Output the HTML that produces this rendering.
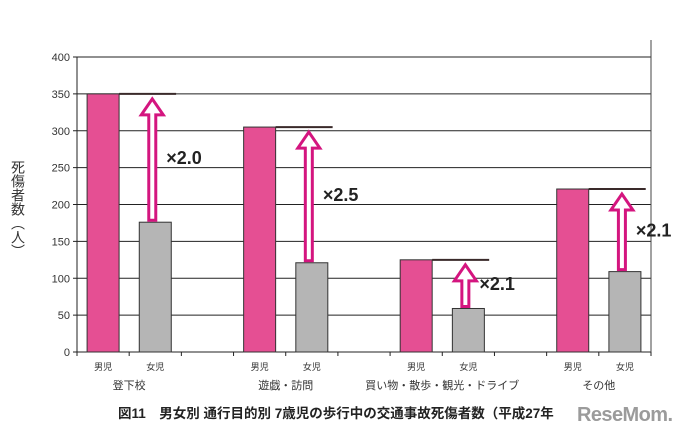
<!DOCTYPE html>
<html><head><meta charset="utf-8"><style>
body{margin:0;background:#fff;width:686px;height:438px;overflow:hidden;font-family:"Liberation Sans","Noto Sans CJK JP",sans-serif}
</style></head><body>
<svg id="c" width="686" height="438" xmlns="http://www.w3.org/2000/svg"></svg>
<script>
const categories=["登下校","遊戯・訪問","買い物・散歩・観光・ドライブ","その他"];
const boys=[350,305,125,221];
const girls=[176,121,59,109];
const ratios=["×2.0","×2.5","×2.1","×2.1"];
const yTicks=[0,50,100,150,200,250,300,350,400];
const ns="http://www.w3.org/2000/svg";
const svg=document.getElementById('c');
const X0=77,X1=651,Y0=352,Y1=57,slot=(X1-X0)/11,bw=32;
const y=v=>Y0-(Y0-Y1)*v/400;
const slotX=i=>X0+slot*i;
function el(t,a,txt){const e=document.createElementNS(ns,t);for(const k in a)e.setAttribute(k,a[k]);if(txt!=null)e.textContent=txt;svg.appendChild(e);return e;}
yTicks.forEach(v=>{
 const g=el('line',{x1:X0,x2:X1,y1:y(v),y2:y(v),stroke:'#222','stroke-width':1});
 
 
 el('line',{x1:X0-4,x2:X0,y1:y(v),y2:y(v),stroke:'#222'});
 const t=el('text',{x:X0-7,y:y(v)+4,'text-anchor':'end','font-size':11,fill:'#333'},v);
 
 
});
const ya=el('line',{x1:X0,x2:X0,y1:Y1,y2:Y0,stroke:'#222'});


const rb=el('line',{x1:X1,x2:X1,y1:40,y2:Y0,stroke:'#444'});


for(let i=0;i<=11;i++)el('line',{x1:slotX(i),x2:slotX(i),y1:Y0,y2:Y0+4,stroke:'#222'});
categories.forEach((c,i)=>{
 const bs=i*3, gs=i*3+1;
 const bx=slotX(bs)+(slot-bw)/2, gx=slotX(gs)+(slot-bw)/2;
 const b=el('rect',{x:bx,y:y(boys[i]),width:bw,height:Y0-y(boys[i]),fill:'#e54f93',stroke:'#333','stroke-width':1});
 
 
 const g=el('rect',{x:gx,y:y(girls[i]),width:bw,height:Y0-y(girls[i]),fill:'#b5b5b5',stroke:'#333','stroke-width':1});
 
 
 const rl=el('line',{x1:bx+bw,x2:bx+bw+57,y1:y(boys[i]),y2:y(boys[i]),stroke:'#3a2a2a','stroke-width':2});
 
 
 const cx=gx+bw/2-3, top=y(boys[i])+5, bot=y(girls[i])-2, hh=16, sw=3.5;
 const p=`M${cx-sw},${bot} L${cx-sw},${top+hh} L${cx-11},${top+hh} L${cx},${top} L${cx+11},${top+hh} L${cx+sw},${top+hh} L${cx+sw},${bot} Z`;
 const a=el('path',{d:p,fill:'#fff',stroke:'#d4157f','stroke-width':3,'stroke-linejoin':'miter'});
 
 
 const ly=(y(boys[i])+y(girls[i]))/2+6;
 const lt=el('text',{x:cx+14,y:ly,'font-size':18,'font-weight':'bold',fill:'#222'},ratios[i]);
 
 
 const t1=el('text',{x:slotX(bs)+slot/2,y:370,'text-anchor':'middle','font-size':9,fill:'#333'},'男児');
 
 
 const t2=el('text',{x:slotX(gs)+slot/2,y:370,'text-anchor':'middle','font-size':9,fill:'#333'},'女児');
 
 
 const t3=el('text',{x:slotX(gs),y:389,'text-anchor':'middle','font-size':11,fill:'#333'},c);
 
 
});
const yt=el('text',{x:18,y:160,'font-size':14,fill:'#333','writing-mode':'tb','glyph-orientation-vertical':0},'死傷者数（人）');


const ti=el('text',{x:118,y:418,'font-size':13.5,'font-weight':'bold',fill:'#222'},'図11　男女別 通行目的別 7歳児の歩行中の交通事故死傷者数（平成27年');


const wm=el('text',{x:577,y:421,'font-size':20,'font-weight':'bold',fill:'#8a8a8a','fill-opacity':0.85,textLength:96},'ReseMom.');


</script>
</body></html>
